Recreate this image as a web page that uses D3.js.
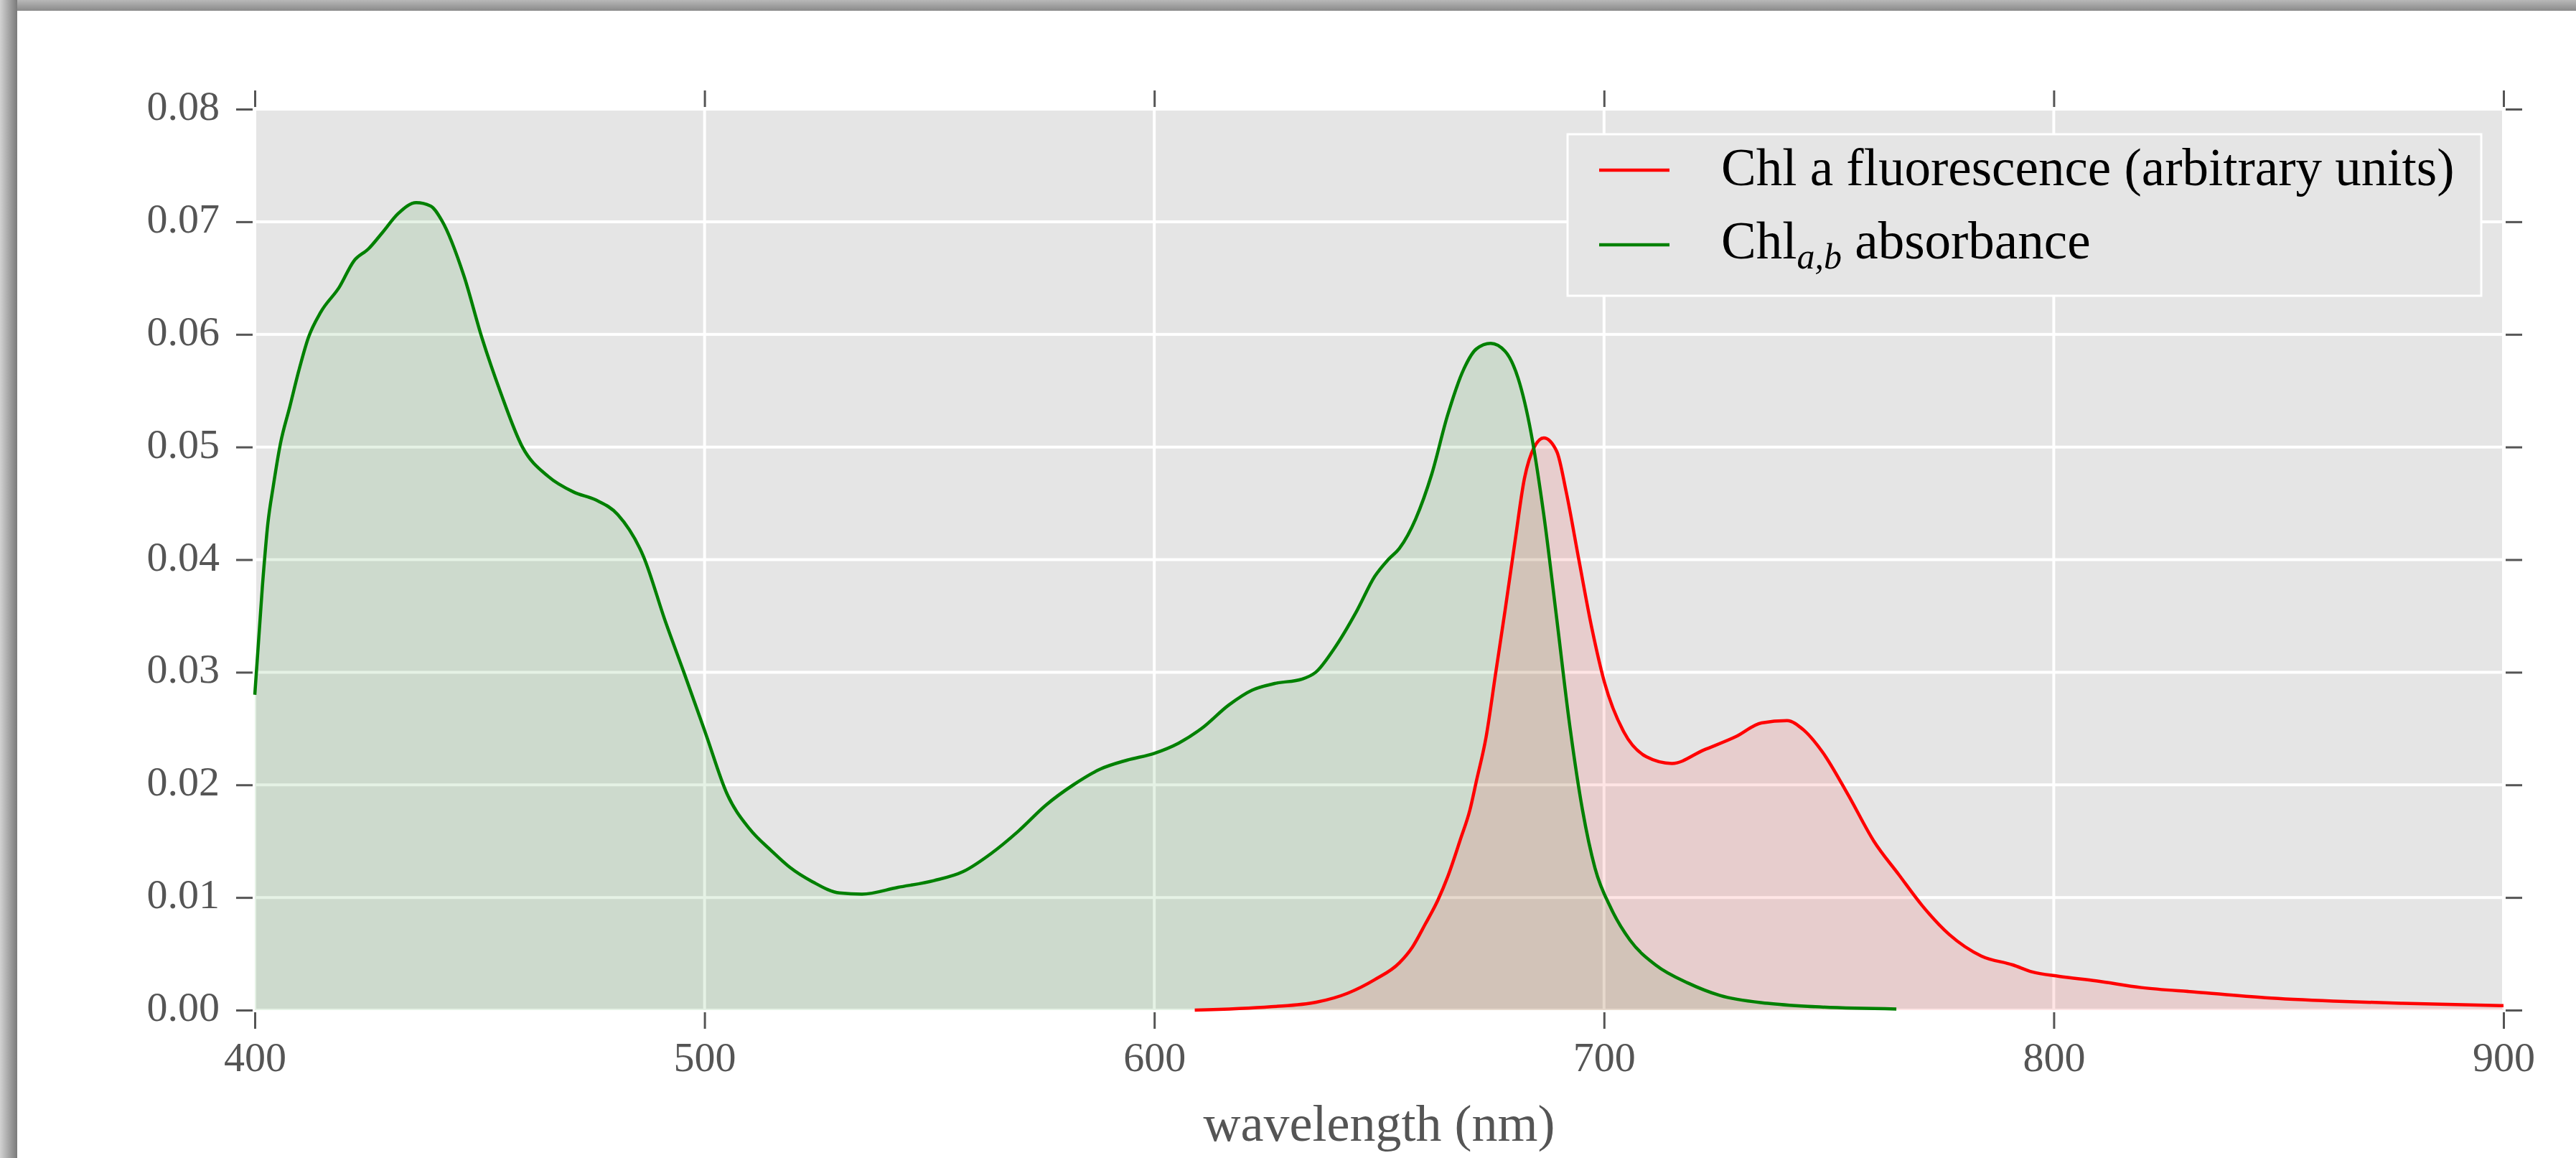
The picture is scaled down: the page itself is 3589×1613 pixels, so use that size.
<!DOCTYPE html>
<html>
<head>
<meta charset="utf-8">
<script src="https://cdn.jsdelivr.net/npm/d3@7"></script>
<style>
  body { margin: 0; background: #fff; }
  svg { display: block; font-family: "Liberation Serif", "Times New Roman", serif; }
</style>
</head>
<body>
<svg id="chart" width="3589" height="1613"></svg>
<script>
// Chl a,b absorbance
var absWl = [400, 401.7, 402.9, 404.1, 405.7, 407.8, 409.8, 411.9, 414.7, 418.8, 422, 425.3, 428.5, 431.8,
  435.9, 439.1, 441.6, 446.5, 450.5, 454.6, 459.5, 465.2, 470.9, 475.8, 480.7, 486.4, 491.3, 495.4, 500.3,
  505, 510, 515, 518.9, 524, 530, 535, 543, 551, 557.5, 563.7, 569.8, 575.9, 582, 588, 594, 600, 605.4,
  610.5, 616.6, 621.7, 626.8, 632.9, 635.9, 640, 645.1, 649, 652, 654.5, 658.1, 661.7, 665.2, 668.8, 671.6,
  674.8, 678, 680.9, 683.8, 686.6, 689.5, 692.3, 695.2, 698, 701.6, 705.8, 711.5, 718.7, 725.8, 736.4, 747, 765];
var absVal = [0.0280, 0.0377, 0.0432, 0.0465, 0.0503, 0.0536, 0.0568, 0.0597, 0.0620, 0.0642, 0.0665, 0.0676, 0.0691, 0.0707,
  0.0717, 0.0714, 0.0701, 0.0652, 0.0597, 0.0549, 0.0500, 0.0474, 0.0460, 0.0453, 0.0440, 0.0403, 0.0345, 0.0300, 0.0245,
  0.0192, 0.0161, 0.0141, 0.0127, 0.0114, 0.0104, 0.0103, 0.0109, 0.0115, 0.0123, 0.0139, 0.0159, 0.0182, 0.0200, 0.0214, 0.0222, 0.0228, 0.0237,
  0.0250, 0.0271, 0.0284, 0.0290, 0.0294, 0.0300, 0.0321, 0.0355, 0.0385, 0.0400, 0.0410, 0.0436, 0.0476, 0.0528, 0.0569, 0.0587,
  0.0592, 0.0585, 0.0561, 0.0512, 0.0440, 0.0347, 0.0255, 0.0178, 0.0126, 0.0090, 0.0062, 0.0040, 0.0024, 0.0013, 0.0006, 0.0003, 0.0001];

// Chl a fluorescence
var fluWl = [609, 626, 636, 643, 649, 654.5, 657.4, 660.2, 663.1, 665.2, 668.1, 670.2, 671.6, 673.8, 675.9, 678,
  680.2, 682.3, 684.5, 686.6, 689.5, 691.6, 694.4, 697.3, 700.1, 704.4, 709.4, 715.1, 722.2, 729.4, 735, 740.7,
  744.3, 748.6, 754.3, 760, 765.6, 770.7, 776.8, 783.9, 791, 795.1, 801.2, 809.4, 819.5, 831.7, 847, 862.3, 877.5, 900];
var fluVal = [0.0000, 0.0003, 0.0007, 0.0015, 0.0027, 0.0042, 0.0056, 0.0076, 0.0098, 0.0118, 0.0152, 0.0178, 0.0203, 0.0243, 0.0299, 0.0355,
  0.0416, 0.0472, 0.0500, 0.0508, 0.0496, 0.0460, 0.0400, 0.0339, 0.0291, 0.0247, 0.0225, 0.0219, 0.0231, 0.0243, 0.0255, 0.0257,
  0.0249, 0.0229, 0.0191, 0.0150, 0.0120, 0.0093, 0.0067, 0.0048, 0.0040, 0.0034, 0.0030, 0.0026, 0.0020, 0.0016, 0.0011, 0.0008, 0.0006, 0.0004];

var xTicks = [400, 500, 600, 700, 800, 900];
var yTicks = [0, 0.01, 0.02, 0.03, 0.04, 0.05, 0.06, 0.07, 0.08];
var xLabel = "wavelength (nm)";

var svg = d3.select("#chart"),
    width = +svg.attr("width"),
    height = +svg.attr("height");

var margin = {top: 152, right: 101, bottom: 206, left: 355},
    w = width - margin.left - margin.right,
    h = height - margin.top - margin.bottom;

var serif = '"Liberation Serif", "Times New Roman", serif';

// screenshot frame shadow (top and left)
var defs = svg.append("defs");
var gTop = defs.append("linearGradient").attr("id", "shTop").attr("x1", 0).attr("y1", 0).attr("x2", 0).attr("y2", 1);
gTop.append("stop").attr("offset", "0%").attr("stop-color", "#b8b8b8");
gTop.append("stop").attr("offset", "100%").attr("stop-color", "#8a8a8a");
var gLeft = defs.append("linearGradient").attr("id", "shLeft").attr("x1", 0).attr("y1", 0).attr("x2", 1).attr("y2", 0);
gLeft.append("stop").attr("offset", "0%").attr("stop-color", "#d2d2d2");
gLeft.append("stop").attr("offset", "100%").attr("stop-color", "#7a7a7a");
svg.append("rect").attr("x", 0).attr("y", 0).attr("width", width).attr("height", 15).attr("fill", "url(#shTop)");
svg.append("rect").attr("x", 0).attr("y", 0).attr("width", 24).attr("height", height).attr("fill", "url(#shLeft)");

var g = svg.append("g").attr("transform", "translate(" + margin.left + "," + margin.top + ")");

var x = d3.scaleLinear().domain([400, 900]).range([0, w]);
var y = d3.scaleLinear().domain([0, 0.08]).range([h, 0]);

g.append("rect").attr("width", w).attr("height", h).attr("fill", "#e5e5e5");

// grid
g.selectAll(".vgrid").data(xTicks).enter().append("line")
    .attr("x1", function(d) { return x(d); }).attr("x2", function(d) { return x(d); })
    .attr("y1", 0).attr("y2", h)
    .attr("stroke", "#fff").attr("stroke-width", 4);
g.selectAll(".hgrid").data(yTicks).enter().append("line")
    .attr("y1", function(d) { return y(d); }).attr("y2", function(d) { return y(d); })
    .attr("x1", 0).attr("x2", w)
    .attr("stroke", "#fff").attr("stroke-width", 4);

var absData = absWl.map(function(d, i) { return [d, absVal[i]]; });
var fluData = fluWl.map(function(d, i) { return [d, fluVal[i]]; });

var area = d3.area()
    .x(function(d) { return x(d[0]); })
    .y0(y(0))
    .y1(function(d) { return y(d[1]); })
    .curve(d3.curveMonotoneX);
var line = d3.line()
    .x(function(d) { return x(d[0]); })
    .y(function(d) { return y(d[1]); })
    .curve(d3.curveMonotoneX);

g.append("path").datum(absData).attr("d", area).attr("fill", "green").attr("fill-opacity", 0.1);
g.append("path").datum(fluData).attr("d", area).attr("fill", "red").attr("fill-opacity", 0.1);
g.append("path").datum(fluData).attr("d", line).attr("fill", "none").attr("stroke", "red").attr("stroke-width", 4.5);
g.append("path").datum(absData).attr("d", line).attr("fill", "none").attr("stroke", "green").attr("stroke-width", 4.5);

// axes, ticks outside on all four sides
var off = 3, tl = 23;
function styleAxis(sel) {
  sel.attr("font-family", serif);
  sel.select(".domain").remove();
  sel.selectAll(".tick line").attr("stroke", "#555").attr("stroke-width", 3);
  sel.selectAll(".tick text").attr("fill", "#555").style("font-size", "58px");
}
g.append("g").attr("transform", "translate(0," + (h + off) + ")")
    .call(d3.axisBottom(x).tickValues(xTicks).tickSize(tl).tickPadding(18).tickFormat(d3.format("d")))
    .call(styleAxis);
g.append("g").attr("transform", "translate(0," + (-off) + ")")
    .call(d3.axisTop(x).tickValues(xTicks).tickSize(tl).tickFormat(""))
    .call(styleAxis);
g.append("g").attr("transform", "translate(" + (-off) + ",0)")
    .call(d3.axisLeft(y).tickValues(yTicks).tickSize(tl).tickPadding(23).tickFormat(d3.format(".2f")))
    .call(styleAxis)
    .selectAll(".tick text").attr("dy", "0.25em");
g.append("g").attr("transform", "translate(" + (w + off) + ",0)")
    .call(d3.axisRight(y).tickValues(yTicks).tickSize(tl).tickFormat(""))
    .call(styleAxis);

g.append("text")
    .attr("x", w / 2).attr("y", h + 182)
    .attr("text-anchor", "middle")
    .attr("fill", "#555")
    .style("font-size", "72px")
    .text(xLabel);

// legend
var leg = g.append("g").attr("transform", "translate(1829,35)");
leg.append("rect").attr("width", 1273).attr("height", 225)
    .attr("fill", "#e5e5e5").attr("stroke", "#fff").attr("stroke-width", 3);

var legItems = [{color: "red", y: 50}, {color: "green", y: 154}];
leg.selectAll(".lline").data(legItems).enter().append("line")
    .attr("x1", 44).attr("x2", 142)
    .attr("y1", function(d) { return d.y; }).attr("y2", function(d) { return d.y; })
    .attr("stroke", function(d) { return d.color; }).attr("stroke-width", 4.5);

leg.append("text").attr("x", 214).attr("y", 71).style("font-size", "73px").attr("fill", "#000")
    .text("Chl a fluorescence (arbitrary units)");
var t2 = leg.append("text").attr("x", 214).attr("y", 173).style("font-size", "73px").attr("fill", "#000");
t2.append("tspan").text("Chl");
t2.append("tspan").attr("dy", 14).style("font-size", "50px").style("font-style", "italic").text("a,b");
t2.append("tspan").attr("dy", -14).text(" absorbance");
</script>
</body>
</html>
